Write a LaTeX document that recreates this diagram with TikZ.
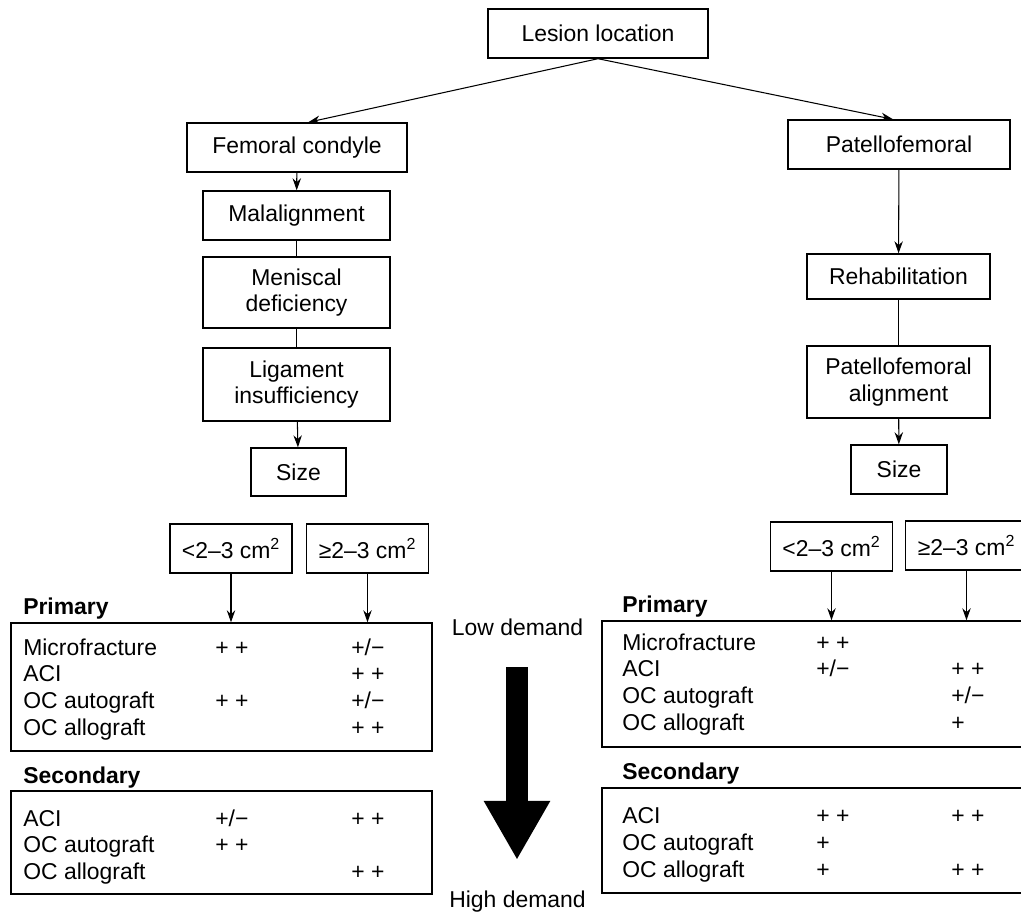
\documentclass[tikz,border=0pt]{standalone}
\usepackage{fontspec}
\setmainfont{Liberation Sans}
\usetikzlibrary{arrows.meta, positioning}
\newcommand{\dblplus}{+ +}
\newcommand{\plmin}{+/−}

\begin{document}
\begin{tikzpicture}[
    x=0.025cm, y=-0.025cm,
    every node/.style={font=\fontsize{16.3}{19}\selectfont},
    box/.style={draw, line width=1pt, align=center, inner sep=2pt},
    table/.style={draw, line width=1pt, inner sep=0pt},
    cell/.style={anchor=base west, inner sep=0pt},
    arrow/.style={-{Stealth[length=3mm, width=2.1mm]}, line width=0.75pt},
    link/.style={line width=0.75pt},
    bigarrow/.style={-{Triangle[length=1.475cm, width=1.55cm]}, line width=0.55cm}
]
    \useasboundingbox (0,0) rectangle (1021,913);

    \node[box, minimum width=5.5cm, minimum height=1.225cm] (lesion) at (598,33.5) {Lesion location};
    \node[box, minimum width=5.5cm, minimum height=1.225cm] (femoral) at (297,147.5) {Femoral condyle};
    \node[box, minimum width=5.55cm, minimum height=1.225cm] (patello) at (899,144.5) {Patellofemoral};

    % femoral condyle branch
    \node[box, minimum width=4.675cm, minimum height=1.225cm] (malalign) at (296.5,215.5) {Malalignment};
    \node[box, minimum width=4.675cm, minimum height=1.775cm] (meniscal) at (296.5,292.5) {Meniscal\\deficiency};
    \node[box, minimum width=4.675cm, minimum height=1.825cm] (ligament) at (296.5,384.5) {Ligament\\insufficiency};
    \node[box, minimum width=2.375cm, minimum height=1.2cm] (sizeL) at (298.5,472) {Size};
    \node[box, minimum width=3.05cm, minimum height=1.225cm] (smallL) at (231,548.5) {<2–3 cm\textsuperscript{2}};
    \node[box, minimum width=3.05cm, minimum height=1.225cm] (bigL) at (367.5,548.5) {≥2–3 cm\textsuperscript{2}};

    % patellofemoral branch
    \node[box, minimum width=4.575cm, minimum height=1.125cm] (rehab) at (898.5,276.5) {Rehabilitation};
    \node[box, minimum width=4.575cm, minimum height=1.8cm] (pfalign) at (898.5,382) {Patellofemoral\\alignment};
    \node[box, minimum width=2.4cm, minimum height=1.225cm] (sizeR) at (899,469.5) {Size};
    \node[box, minimum width=3.05cm, minimum height=1.225cm] (smallR) at (831.5,546.5) {<2–3 cm\textsuperscript{2}};
    \node[box, minimum width=3.05cm, minimum height=1.225cm] (bigR) at (966.5,545.5) {≥2–3 cm\textsuperscript{2}};

    % option tables
    \node[cell, font=\fontsize{16.3}{19}\selectfont\bfseries] (primlabL) at (23,614) {Primary};
    \node[cell, font=\fontsize{16.3}{19}\selectfont\bfseries] (seclabL) at (23,783) {Secondary};
    \node[table, minimum width=10.525cm, minimum height=3.2cm] (primL) at (221.5,687) {};
    \node[table, minimum width=10.525cm, minimum height=2.575cm] (secL) at (221.5,842.5) {};
    \node[cell, font=\fontsize{16.3}{19}\selectfont\bfseries] (primlabR) at (622,612) {Primary};
    \node[cell, font=\fontsize{16.3}{19}\selectfont\bfseries] (seclabR) at (622,779) {Secondary};
    \node[table, minimum width=10.95cm, minimum height=3.15cm] (primR) at (821,684) {};
    \node[table, minimum width=10.95cm, minimum height=2.625cm] (secR) at (821,840.5) {};

    \foreach \row/\ca/\cb [count=\i from 0] in {Microfracture/\dblplus/\plmin, ACI//\dblplus, OC autograft/\dblplus/\plmin, OC allograft//\dblplus} {
        \node[cell] (pl-\i) at (23,{655+\i*26.7}) {\row};
        \node[cell] (pla-\i) at (215,{655+\i*26.7}) {\ca};
        \node[cell] (plb-\i) at (351,{655+\i*26.7}) {\cb};
    }
    \foreach \row/\ca/\cb [count=\i from 0] in {ACI/\plmin/\dblplus, OC autograft/\dblplus/, OC allograft//\dblplus} {
        \node[cell] (sl-\i) at (23,{826+\i*26.5}) {\row};
        \node[cell] (sla-\i) at (215,{826+\i*26.5}) {\ca};
        \node[cell] (slb-\i) at (351,{826+\i*26.5}) {\cb};
    }
    \foreach \row/\ca/\cb [count=\i from 0] in {Microfracture/\dblplus/, ACI/\plmin/\dblplus, OC autograft//\plmin, OC allograft//+} {
        \node[cell] (pr-\i) at (622,{650+\i*26.7}) {\row};
        \node[cell] (pra-\i) at (816,{650+\i*26.7}) {\ca};
        \node[cell] (prb-\i) at (951,{650+\i*26.7}) {\cb};
    }
    \foreach \row/\ca/\cb [count=\i from 0] in {ACI/\dblplus/\dblplus, OC autograft/+/, OC allograft/+/\dblplus} {
        \node[cell] (sr-\i) at (622,{823+\i*27}) {\row};
        \node[cell] (sra-\i) at (816,{823+\i*27}) {\ca};
        \node[cell] (srb-\i) at (951,{823+\i*27}) {\cb};
    }

    % demand scale
    \node[anchor=base] (lowdem) at (517.5,635) {Low demand};
    \node[anchor=base] (highdem) at (517.5,907) {High demand};
    \coordinate (demtop) at (517,667);
    \coordinate (demtip) at (517,860);
    \draw[bigarrow] (demtop) -- (demtip);

    \draw[arrow] (lesion.south) -- ([xshift=0.28cm]femoral.north);
    \draw[arrow] (lesion.south) -- ([xshift=-0.15cm]patello.north);
    \draw[arrow] (femoral) -- (malalign);
    \draw[link] (malalign) -- (meniscal);
    \draw[link] (meniscal) -- (ligament);
    \draw[arrow] (ligament) -- (sizeL);
    \draw[arrow] (patello) -- (rehab);
    \draw[link] (rehab) -- (pfalign);
    \draw[arrow] (pfalign) -- (sizeR);
    \draw[arrow] (smallL) -- (smallL |- primL.north);
    \draw[arrow] (bigL) -- (bigL |- primL.north);
    \draw[arrow] (smallR) -- (smallR |- primR.north);
    \draw[arrow] (bigR) -- (bigR |- primR.north);
\end{tikzpicture}
\end{document}
